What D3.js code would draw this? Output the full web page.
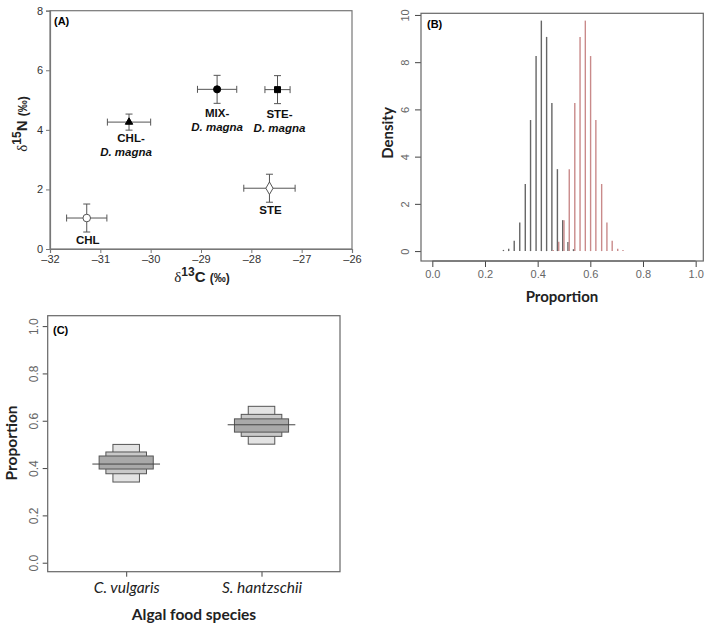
<!DOCTYPE html>
<html>
<head>
<meta charset="utf-8">
<script src="https://cdn.jsdelivr.net/npm/d3@7"></script>
<style>
  body { margin: 0; background: #fff; }
  svg { display: block; }
  text { font-family: "Liberation Sans", Arial, sans-serif; }
</style>
</head>
<body>
<div id="chart"></div>
<script>
// ---- panel A: isotope means +- sd
var groups = ["CHL", "CHL-D. magna", "MIX-D. magna", "STE-D. magna", "STE"];
var d13C = [-31.27, -30.43, -28.68, -27.48, -27.64];
var d13Csd = [0.40, 0.43, 0.39, 0.25, 0.51];
var d15N = [1.04, 4.26, 5.36, 5.35, 2.04];
var d15Nsd = [0.47, 0.27, 0.47, 0.47, 0.47];
var shapes = ["circleOpen", "triangle", "circle", "square", "diamondOpen"];
var xTicksA = [-32, -31, -30, -29, -28, -27, -26];
var yTicksA = [0, 2, 4, 6, 8];

// ---- panel B: posterior densities
var propCv = [0.270, 0.290, 0.311, 0.332, 0.353, 0.373, 0.394, 0.414, 0.434, 0.454, 0.475, 0.495, 0.515, 0.536];
var densCv = [0.05, 0.10, 0.44, 1.21, 2.84, 5.55, 8.26, 9.76, 9.07, 6.27, 3.47, 1.31, 0.38, 0.08];
var propSh = [0.459, 0.480, 0.500, 0.520, 0.541, 0.561, 0.581, 0.601, 0.621, 0.643, 0.663, 0.683, 0.704, 0.724];
var densSh = [0.05, 0.40, 1.31, 3.47, 6.27, 9.07, 9.76, 8.26, 5.55, 2.84, 1.21, 0.44, 0.10, 0.05];
var xTicksB = [0, 0.2, 0.4, 0.6, 0.8, 1.0];
var yTicksB = [0, 2, 4, 6, 8, 10];

// ---- panel C: credible intervals (95, 75, 50) and median
var species = ["C. vulgaris", "S. hantzschii"];
var ci95 = [[0.341, 0.500], [0.501, 0.661]];
var ci75 = [[0.376, 0.468], [0.534, 0.627]];
var ci50 = [[0.396, 0.451], [0.552, 0.608]];
var medians = [0.417, 0.583];
var yTicksC = [0, 0.2, 0.4, 0.6, 0.8, 1.0];

var svg = d3.select("#chart").append("svg")
    .attr("width", 714)
    .attr("height", 627);

var tickColor = "#444";

// ================= Panel A
var gA = svg.append("g");
var xA = d3.scaleLinear().domain([-32, -26]).range([50, 352]);
var yA = d3.scaleLinear().domain([0, 8]).range([249, 10.7]);

gA.append("rect")
  .attr("x", xA(-32)).attr("y", yA(8))
  .attr("width", xA(-26) - xA(-32)).attr("height", yA(0) - yA(8))
  .attr("fill", "none").attr("stroke", "#777").attr("stroke-width", 1.2);

var axA = gA.append("g")
  .attr("transform", "translate(0," + yA(0) + ")")
  .call(d3.axisBottom(xA).tickValues(xTicksA).tickSize(4).tickPadding(2)
    .tickFormat(function(d) { return "\u2013" + Math.abs(d); }));
var ayA = gA.append("g")
  .attr("transform", "translate(" + xA(-32) + ",0)")
  .call(d3.axisLeft(yA).tickValues(yTicksA).tickSize(4).tickPadding(3));
[axA, ayA].forEach(function(a) {
  a.select(".domain").attr("stroke", "#777").attr("stroke-width", 1.2);
  a.selectAll(".tick line").attr("stroke", "#777");
  a.selectAll(".tick text").attr("fill", "#333").style("font-size", "11px")
    .style("font-family", "'Liberation Sans', Arial, sans-serif");
});

gA.append("text").attr("x", 54).attr("y", 25)
  .style("font-size", "11px").style("font-weight", "bold").text("(A)");

// error bars
var capA = 3.5;
groups.forEach(function(g, i) {
  var cx = xA(d13C[i]), cy = yA(d15N[i]);
  var x0 = xA(d13C[i] - d13Csd[i]), x1 = xA(d13C[i] + d13Csd[i]);
  var y0 = yA(d15N[i] - d15Nsd[i]), y1 = yA(d15N[i] + d15Nsd[i]);
  var eg = gA.append("g").attr("stroke", "#555").attr("stroke-width", 1);
  eg.append("line").attr("x1", x0).attr("x2", x1).attr("y1", cy).attr("y2", cy);
  eg.append("line").attr("x1", x0).attr("x2", x0).attr("y1", cy - capA).attr("y2", cy + capA);
  eg.append("line").attr("x1", x1).attr("x2", x1).attr("y1", cy - capA).attr("y2", cy + capA);
  eg.append("line").attr("x1", cx).attr("x2", cx).attr("y1", y0).attr("y2", y1);
  eg.append("line").attr("x1", cx - capA).attr("x2", cx + capA).attr("y1", y0).attr("y2", y0);
  eg.append("line").attr("x1", cx - capA).attr("x2", cx + capA).attr("y1", y1).attr("y2", y1);

  var s = shapes[i];
  var symType = d3.symbolCircle, size = 40, fill = "#000";
  if (s === "triangle") { symType = d3.symbolTriangle; size = 24; }
  if (s === "square") { symType = d3.symbolSquare; size = 36; }
  if (s === "circleOpen") { fill = "#fff"; size = 45; }
  if (s === "diamondOpen") { symType = d3.symbolDiamond; fill = "#fff"; size = 45; }
  gA.append("path")
    .attr("d", d3.symbol().type(symType).size(size)())
    .attr("transform", "translate(" + cx + "," + cy + ")")
    .attr("fill", fill).attr("stroke", s.indexOf("Open") > 0 ? "#555" : "#000")
    .attr("stroke-width", 1);
});

// point labels
function labelA(x, y, lines, dx2) {
  var t = gA.append("text").attr("text-anchor", "middle")
    .style("font-size", "11.5px").style("font-weight", "bold").attr("fill", "#111");
  lines.forEach(function(l, k) {
    t.append("tspan").attr("x", x + (k === 1 ? (dx2 || 0) : 0)).attr("y", y + k * 14)
      .style("font-style", k === 1 ? "italic" : "normal").text(l);
  });
}
labelA(xA(d13C[0]) + 1, yA(d15N[0]) + 26, ["CHL"]);
labelA(xA(d13C[1]) + 2, yA(d15N[1]) + 20, ["CHL-", "D. magna"], -5);
labelA(xA(d13C[2]), yA(d15N[2]) + 28, ["MIX-", "D. magna"]);
labelA(xA(d13C[3]) + 2, yA(d15N[3]) + 28, ["STE-", "D. magna"]);
labelA(xA(d13C[4]) + 1, yA(d15N[4]) + 26, ["STE"]);

// axis titles A
var tx = gA.append("text").attr("x", 202).attr("y", 282).attr("text-anchor", "middle")
  .style("font-size", "15px").style("font-weight", "bold").attr("fill", "#222");
tx.append("tspan").style("font-family", "'Liberation Serif', serif").style("font-weight", "normal").text("\u03b4");
tx.append("tspan").attr("dy", -6).style("font-size", "12px").text("13");
tx.append("tspan").attr("dy", 6).text("C ");
tx.append("tspan").style("font-size", "12px").text("(\u2030)");

var ty = gA.append("text").attr("transform", "translate(27,124) rotate(-90)").attr("text-anchor", "middle")
  .style("font-size", "15px").style("font-weight", "bold").attr("fill", "#222");
ty.append("tspan").style("font-family", "'Liberation Serif', serif").style("font-weight", "normal").text("\u03b4");
ty.append("tspan").attr("dy", -6).style("font-size", "12px").text("15");
ty.append("tspan").attr("dy", 6).text("N ");
ty.append("tspan").style("font-size", "12px").text("(\u2030)");

// ================= R-style helper for panels B and C
function rAxisStyle(a) {
  a.select(".domain").remove();
  a.selectAll(".tick line").attr("stroke", tickColor);
  a.selectAll(".tick text").attr("fill", "#666").style("font-size", "11px");
}

// ================= Panel B
var gB = svg.append("g");
var xB = d3.scaleLinear().domain([-0.043, 1.029]).range([421, 703.3]);
var yB = d3.scaleLinear().domain([-0.42, 10.07]).range([261, 13.3]);

var axB = gB.append("g").attr("transform", "translate(0," + 261 + ")")
  .call(d3.axisBottom(xB).tickValues(xTicksB).tickSize(6).tickPadding(3).tickFormat(d3.format(".1f")));
rAxisStyle(axB);
gB.append("line").attr("x1", xB(0)).attr("x2", xB(1)).attr("y1", 261).attr("y2", 261)
  .attr("stroke", tickColor);

var ayB = gB.append("g").attr("transform", "translate(421,0)")
  .call(d3.axisLeft(yB).tickValues(yTicksB).tickSize(6).tickPadding(4));
rAxisStyle(ayB);
ayB.selectAll(".tick text")
  .attr("transform", "rotate(-90)").attr("x", 0).attr("y", -16).attr("dy", "0.35em")
  .attr("text-anchor", "middle");

gB.selectAll(".barCv").data(propCv).enter().append("line")
  .attr("x1", function(d) { return xB(d); }).attr("x2", function(d) { return xB(d); })
  .attr("y1", yB(0)).attr("y2", function(d, i) { return yB(densCv[i]); })
  .attr("stroke", "#666").attr("stroke-width", 1.4);
gB.selectAll(".barSh").data(propSh).enter().append("line")
  .attr("x1", function(d) { return xB(d); }).attr("x2", function(d) { return xB(d); })
  .attr("y1", yB(0)).attr("y2", function(d, i) { return yB(densSh[i]); })
  .attr("stroke", "#c98a8a").attr("stroke-width", 1.4);

gB.append("rect").attr("x", 421).attr("y", 13.3).attr("width", 703.3 - 421).attr("height", 261 - 13.3)
  .attr("fill", "none").attr("stroke", "#666").attr("stroke-width", 1.2);
gB.append("text").attr("x", 427).attr("y", 28)
  .style("font-size", "11px").style("font-weight", "bold").text("(B)");
gB.append("text").attr("x", 562).attr("y", 302).attr("text-anchor", "middle")
  .style("font-family", "Lato, 'Open Sans', sans-serif")
  .style("font-size", "15px").style("font-weight", "bold").attr("fill", "#222").text("Proportion");
gB.append("text").attr("transform", "translate(393,133) rotate(-90)").attr("text-anchor", "middle")
  .style("font-family", "Lato, 'Open Sans', sans-serif")
  .style("font-size", "15px").style("font-weight", "bold").attr("fill", "#222").text("Density");

// ================= Panel C
var gC = svg.append("g");
var xC = d3.scaleLinear().domain([0.42, 2.58]).range([47.7, 340]);
var yC = d3.scaleLinear().domain([-0.038, 1.044]).range([571.7, 315.7]);

var ayC = gC.append("g").attr("transform", "translate(47.7,0)")
  .call(d3.axisLeft(yC).tickValues(yTicksC).tickSize(5).tickPadding(4).tickFormat(d3.format(".1f")));
rAxisStyle(ayC);
ayC.selectAll(".tick text").style("font-size", "12px")
  .attr("transform", "rotate(-90)").attr("x", 0).attr("y", -14).attr("dy", "0.35em")
  .attr("text-anchor", "middle");

var axC = gC.append("g").attr("transform", "translate(0,571.7)")
  .call(d3.axisBottom(xC).tickValues([1, 2]).tickSize(5).tickPadding(5)
    .tickFormat(function(d) { return species[d - 1]; }));
rAxisStyle(axC);
axC.selectAll(".tick text").attr("fill", "#222").style("font-size", "15.5px")
  .style("font-style", "italic").style("font-family", "Lato, 'Open Sans', sans-serif");

var halfW = [0.098, 0.15, 0.2];
var fills = ["#e3e3e3", "#c9c9c9", "#a9a9a9"];
[ci95, ci75, ci50].forEach(function(ci, k) {
  gC.selectAll(".ci" + k).data(ci).enter().append("rect")
    .attr("x", function(d, i) { return xC(i + 1 - halfW[k]); })
    .attr("width", function(d, i) { return xC(i + 1 + halfW[k]) - xC(i + 1 - halfW[k]); })
    .attr("y", function(d) { return yC(d[1]); })
    .attr("height", function(d) { return yC(d[0]) - yC(d[1]); })
    .attr("fill", fills[k]).attr("stroke", "#555").attr("stroke-width", 1);
});
gC.selectAll(".med").data(medians).enter().append("line")
  .attr("x1", function(d, i) { return xC(i + 1 - 0.25); })
  .attr("x2", function(d, i) { return xC(i + 1 + 0.25); })
  .attr("y1", function(d) { return yC(d); }).attr("y2", function(d) { return yC(d); })
  .attr("stroke", "#444").attr("stroke-width", 1);

gC.append("rect").attr("x", 47.7).attr("y", 315.7).attr("width", 340 - 47.7).attr("height", 571.7 - 315.7)
  .attr("fill", "none").attr("stroke", "#666").attr("stroke-width", 1.2);
gC.append("text").attr("x", 53).attr("y", 334)
  .style("font-size", "11px").style("font-weight", "bold").text("(C)");
gC.append("text").attr("x", 194).attr("y", 620).attr("text-anchor", "middle")
  .style("font-family", "Lato, 'Open Sans', sans-serif")
  .style("font-size", "15.5px").style("font-weight", "bold").attr("fill", "#222").text("Algal food species");
gC.append("text").attr("transform", "translate(17,443) rotate(-90)").attr("text-anchor", "middle")
  .style("font-family", "Lato, 'Open Sans', sans-serif")
  .style("font-size", "15.5px").style("font-weight", "bold").attr("fill", "#222").text("Proportion");
</script>
</body>
</html>
